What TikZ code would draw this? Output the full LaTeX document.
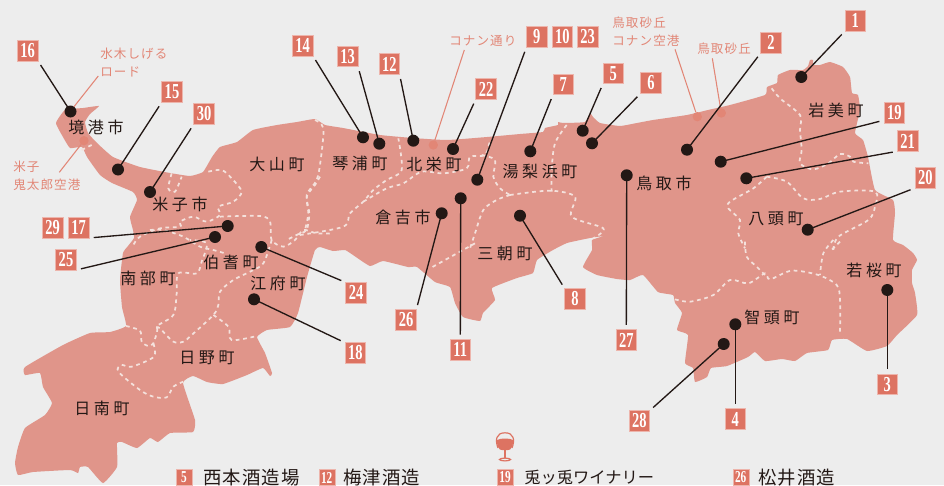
\documentclass[tikz,border=0pt]{standalone}
\usepackage{fontspec}
\newfontfamily\townfont[LetterSpace=22]{Noto Sans CJK JP}
\newfontfamily\spotfont[LetterSpace=9]{Noto Sans CJK JP}
\newfontfamily\legfont[LetterSpace=6]{Noto Sans CJK JP}
\newfontfamily\legtightfont{Noto Sans CJK JP}
\newfontfamily\numfont[FakeStretch=0.68]{Liberation Serif}
\definecolor{bgc}{HTML}{EDEDED}
\definecolor{mapc}{HTML}{E0958A}
\definecolor{accent}{HTML}{DD7362}
\definecolor{boxedge}{HTML}{EDB5AC}
\definecolor{inkc}{HTML}{231815}
\definecolor{spotc}{HTML}{E28676}
\definecolor{dashc}{HTML}{F4E1DC}
\tikzset{
  numbox/.style={fill=accent,draw=boxedge,line width=.4pt,minimum size=15.4pt,inner sep=0pt,outer sep=0pt,text=white,font=\fontsize{16pt}{16pt}\selectfont\numfont\bfseries},
  legbox/.style={fill=accent,draw=boxedge,line width=.3pt,minimum size=12pt,inner sep=0pt,outer sep=0pt,text=white,font=\fontsize{12.5pt}{12.5pt}\selectfont\numfont\bfseries},
  pindot/.style={circle,fill=inkc,minimum size=9pt,inner sep=0pt,outer sep=0pt},
  spotdot/.style={circle,fill=spotc,minimum size=7pt,inner sep=0pt,outer sep=0pt},
  leader/.style={draw=inkc,line width=1pt,shorten <=3.6pt},
  spotline/.style={draw=spotc,line width=.8pt},
  town/.style={text=inkc,inner sep=0pt,font=\fontsize{12pt}{12pt}\selectfont\townfont},
  spotlabel/.style={text=spotc,inner sep=0pt,align=left,anchor=north west,font=\fontsize{9.4pt}{13pt}\selectfont\spotfont},
  legtext/.style={text=inkc,inner sep=0pt,anchor=west,font=\fontsize{13.8pt}{13.8pt}\selectfont\legfont},
  townline/.style={draw=dashc,line width=1.3pt,dash pattern=on 2.8pt off 2.8pt,line cap=butt},
}
\begin{document}
\begin{tikzpicture}[x=.75pt,y=-.75pt]
\useasboundingbox (0,0) rectangle (944,485);
\clip (0,0) rectangle (944,485);
\fill[bgc] (0,0) rectangle (944,485);
% map
\fill[mapc] plot[smooth cycle,tension=.25] coordinates {
(65,110)(83,108)(99,106)(90,114)(85,122)(88,133)(97,143)(113,157)(140,167)(170,173)(190,176)(203,172)(212,157)(220,147)(237,142)(253,130)(277,125)(297,122)(315,119)(325,125)(343,128)(380,135)(413,138)(447,140)(487,137)(520,134)(543,132)(545,128)(558,125)(558,122)(563,123)(585,122)(590,113)(593,117)(600,123)(620,126)(637,123)(653,120)(687,115)(708,110)(730,105)(765,95)(767,87)(777,83)(778,75)(790,70)(803,70)(808,66)(810,60)(813,60)(813,65)(820,65)(830,62)(843,67)(850,77)(852,93)(858,95)(860,110)(855,133)(863,140)(868,157)(875,190)(893,200)(895,213)(893,240)(903,245)(913,253)(917,260)(912,270)(912,283)(915,293)(917,315)(897,335)(887,346)(867,351)(847,339)(832,340)(828,350)(807,353)(795,361)(782,359)(765,361)(755,352)(748,357)(727,366)(711,368)(707,377)(695,382)(693,368)(685,363)(688,335)(677,330)(682,313)(675,303)(673,295)(658,292)(643,275)(630,280)(617,279)(597,275)(583,267)(592,250)(592,240)(604,236)(590,238)(567,243)(553,250)(537,260)(533,273)(517,278)(492,288)(495,300)(483,313)(480,321)(463,317)(455,303)(450,287)(435,282)(417,267)(408,267)(383,261)(370,266)(353,255)(345,250)(333,251)(320,247)(315,250)(307,277)(298,313)(290,327)(267,330)(257,337)(265,353)(272,373)(270,376)(263,368)(247,375)(223,384)(207,382)(193,376)(183,383)(195,420)(193,432)(170,433)(158,442)(150,438)(137,448)(122,442)(117,443)(117,467)(103,483)(88,467)(80,467)(78,473)(70,470)(33,472)(18,475)(15,463)(18,447)(25,428)(45,415)(52,403)(43,387)(40,373)(25,375)(25,367)(63,345)(90,333)(110,332)(126,326)(122,307)(120,280)(123,253)(128,246)(134,238)(133,230)(130,217)(137,200)(133,192)(112,183)(100,175)(87,157)(82,147)(70,148)(63,137)(56,123)};
% municipal borders
\begin{scope}[x=.25pt,y=-.25pt]
\draw[townline] (245,450) -- (285,430);
\draw[townline] plot[smooth,tension=.5] coordinates {(515,520)(505,565)(525,575)(545,530)};
\draw[townline] plot[smooth,tension=.5] coordinates {(625,515)(665,510)(695,535)(725,575)(700,605)(655,620)(660,645)(620,665)(580,650)(540,665)(540,680)(480,685)(420,710)(400,735)};
\draw[townline] plot[smooth,tension=.5] coordinates {(660,650)(780,648)(810,665)(815,720)(850,740)(885,720)(910,690)(950,700)(1000,700)};
\draw[townline] plot[smooth,tension=.5] coordinates {(450,690)(490,690)(550,710)(600,740)(640,750)(675,760)};
\draw[townline] plot[smooth,tension=.5] coordinates {(960,530)(945,555)(920,590)(925,640)(915,690)};
\end{scope}
\begin{scope}[shift={(300,0)},x=.25pt,y=-.25pt]
\draw[townline] plot[smooth,tension=.5] coordinates {(45,360)(70,385)(62,480)(50,540)(20,585)(28,640)(20,690)(0,700)(-40,720)};
\draw[townline] plot[smooth,tension=.5] coordinates {(0,705)(130,680)(150,640)(190,605)(220,570)(260,540)(305,510)(295,415)};
\draw[townline] plot[smooth,tension=.5] coordinates {(190,605)(260,565)(310,550)(365,515)(430,520)(500,505)(510,470)(555,465)(570,420)};
\draw[townline] plot[smooth,tension=.5] coordinates {(545,465)(585,480)(580,530)(600,565)(630,585)};
\draw[townline] plot[smooth,tension=.5] coordinates {(630,585)(590,600)(550,630)(525,700)(510,745)};
\draw[townline] plot[smooth,tension=.5] coordinates {(630,585)(750,572)(825,590)(815,650)(910,685)(880,715)};
\draw[townline] plot[smooth,tension=.5] coordinates {(800,375)(765,430)(755,510)(755,575)};
\end{scope}
\begin{scope}[shift={(320,240)},x=.25pt,y=-.25pt]
\draw[townline] plot[smooth,tension=.5] coordinates {(465,10)(420,35)(330,85)};
\end{scope}
\begin{scope}[shift={(620,0)},x=.25pt,y=-.25pt]
\draw[townline] plot[smooth,tension=.5] coordinates {(455,265)(480,295)(540,345)(540,390)(545,450)(540,490)(580,508)(625,490)(660,462)(690,470)(700,485)(745,490)};
\draw[townline] plot[smooth,tension=.5] coordinates {(440,530)(500,545)(550,595)(600,597)(660,575)(765,575)(765,620)(745,660)(655,710)(640,750)};
\draw[townline] plot[smooth,tension=.5] coordinates {(440,530)(400,565)(330,605)(325,625)(360,660)(355,700)(375,745)};
\end{scope}
\begin{scope}[shift={(620,240)},x=.25pt,y=-.25pt]
\draw[townline] plot[smooth,tension=.5] coordinates {(375,5)(380,50)(410,80)(435,105)};
\draw[townline] plot[smooth,tension=.5] coordinates {(165,178)(210,185)(280,165)(330,120)(385,130)(435,100)(450,118)(515,92)(595,105)(650,135)(660,180)(660,285)};
\draw[townline] plot[smooth,tension=.5] coordinates {(640,0)(610,40)(600,105)};
\draw[townline] (660,5) -- (635,30);
\end{scope}
\begin{scope}[shift={(0,240)},x=.25pt,y=-.25pt]
\draw[townline] plot[smooth,tension=.5] coordinates {(815,0)(790,70)(750,95)(700,120)(660,155)(655,195)(640,225)(575,285)(550,305)(520,305)(480,265)(470,258)(520,225)(530,160)(535,100)(590,100)(605,65)(620,10)(570,0)};
\draw[townline] plot[smooth,tension=.5] coordinates {(378,258)(420,272)(425,305)(445,318)(460,310)(472,270)(468,255)};
\draw[townline] plot[smooth,tension=.5] coordinates {(460,310)(462,350)(395,380)(365,375)(355,395)(420,450)(460,470)(500,472)(520,440)(550,425)};
\draw[townline] plot[smooth,tension=.5] coordinates {(640,225)(685,260)(695,300)(770,288)};
\end{scope}
% town names
\node[town] (t1) at (96,127) {境港市};
\node[town] (t2) at (277,164) {大山町};
\node[town] (t3) at (180,204) {米子市};
\node[town] (t4) at (360,163) {琴浦町};
\node[town] (t5) at (434,164) {北栄町};
\node[town] (t6) at (540,171) {湯梨浜町};
\node[town] (t7) at (403,217) {倉吉市};
\node[town] (t8) at (505,253) {三朝町};
\node[town] (t9) at (664,183) {鳥取市};
\node[town] (t10) at (836,110) {岩美町};
\node[town] (t11) at (776,219) {八頭町};
\node[town] (t12) at (874,270) {若桜町};
\node[town] (t13) at (772,317) {智頭町};
\node[town] (t14) at (148,278) {南部町};
\node[town] (t15) at (231,262) {伯耆町};
\node[town] (t16) at (278,283) {江府町};
\node[town] (t17) at (207,358) {日野町};
\node[town] (t18) at (102,408) {日南町};
% number boxes
\foreach \id/\px/\py in {1/855.3/20.7,2/771/42.7,3/887.3/384.3,4/735.3/419,5/613.3/73.3,6/651/83,7/563.3/84.3,8/575/299,9/536.7/37,10/562.3/37,23/587.7/37,11/460.3/349.7,12/389.3/64,13/347.7/56.3,14/302.7/45.7,15/172/92,16/27.7/50.7,17/78.7/227.7,29/52.7/227.7,18/355.3/353,19/894.3/113,20/925.3/177.7,21/907.7/141,22/486/89,24/356/292.7,25/66/259.7,26/406/320,27/626.3/340,28/639.3/421,30/204/114}
  \node[numbox] (n\id) at (\px,\py) {\id};
% pins
\foreach \id/\px/\py in {1/801.3/77,2/687/149.7,3/887.3/290,4/735.3/324.3,5/582.7/130.7,6/592/143.3,7/530.3/151.3,8/520/215.7,9/477.3/179.7,11/460.7/198.3,12/413.3/140.7,13/379.3/143.7,14/363/137.3,15/118/169.5,16/70.5/111.5,17/227.7/226,18/254/299.3,19/720.7/161.7,20/807.7/229.7,21/746.3/178.3,22/453/149,24/261.3/247,25/215/237,26/441.7/213.3,27/626.7/175.3,28/723.7/344,30/150/192}
  \node[pindot] (d\id) at (\px,\py) {};
% spot labels
\node[spotlabel] (s1) at (100,48) {水木しげる\\ロード};
\node[spotlabel] (s2) at (13,161) {米子\\鬼太郎空港};
\node[spotlabel] (s3) at (449,35) {コナン通り};
\node[spotlabel] (s4) at (612,17) {鳥取砂丘\\コナン空港};
\node[spotlabel] (s5) at (697,43) {鳥取砂丘};
\node[spotdot] (p2) at (84,140.7) {};
\node[spotdot] (p3) at (433.3,145) {};
\node[spotdot] (p4) at (697.3,116.7) {};
\node[spotdot] (p5) at (721.3,113) {};
\coordinate (e1a) at (98.3,76);
\coordinate (e1b) at (74,106.7);
\coordinate (e2) at (59.3,172.3);
\coordinate (e3) at (464.3,50);
\coordinate (e4) at (675,49.3);
\coordinate (e5) at (712.3,58.3);
\draw[spotline] (e1a) -- (e1b);
\draw[spotline] (e2) -- (p2);
\draw[spotline] (e3) -- (p3);
\draw[spotline] (e4) -- (p4);
\draw[spotline] (e5) -- (p5);
% leaders
\foreach \from/\to in {16.south east/16,15.south west/15,30.south west/30,14.south east/14,13.south east/13,12.south east/12,22.south west/22,9.south west/9,7.south west/7,5.south west/5,6.south west/6,2.south west/2,1.south west/1,19.215/19,21.south west/21,20.south west/20,3.north/3,4.north/4,28.north east/28,27.north/27,8.north west/8,11.north/11,26.north east/26,18.north west/18,24.north west/24,17.south east/17,25.south east/25}
  \draw[leader] (n\from) -- (d\to.center);
% wine glass
\begin{scope}[draw=accent,fill=accent]
\fill[accent] (497,440) .. controls (497,452) and (502,450) .. (505,450) .. controls (508,450) and (513,452) .. (513,440) .. controls (510,438) and (500,438) .. (497,440) -- cycle;
\draw[line width=.9pt] (498,448) .. controls (495,440) and (496,432.8) .. (505,432.8) .. controls (514,432.8) and (515,440) .. (512,448);
\draw[line width=1.2pt] (505,450) -- (505,458);
\draw[line width=.9pt] (505,459.5) ellipse [x radius=5.5,y radius=1.4];
\end{scope}
% legend
\node[legbox] (k5) at (184,477.5) {5};
\node[legbox] (k12) at (326.7,477.5) {12};
\node[legbox] (k19) at (505,477.5) {19};
\node[legbox] (k26) at (740.7,477.5) {26};
\node[legtext] (k5t) at (203,477.5) {西本酒造場};
\node[legtext] (k12t) at (343,477.5) {梅津酒造};
\node[legtext,font=\fontsize{12.2pt}{12.2pt}\selectfont\legtightfont] (k19t) at (524,477.5) {兎ッ兎ワイナリー};
\node[legtext] (k26t) at (758,477.5) {松井酒造};
\end{tikzpicture}
\end{document}
